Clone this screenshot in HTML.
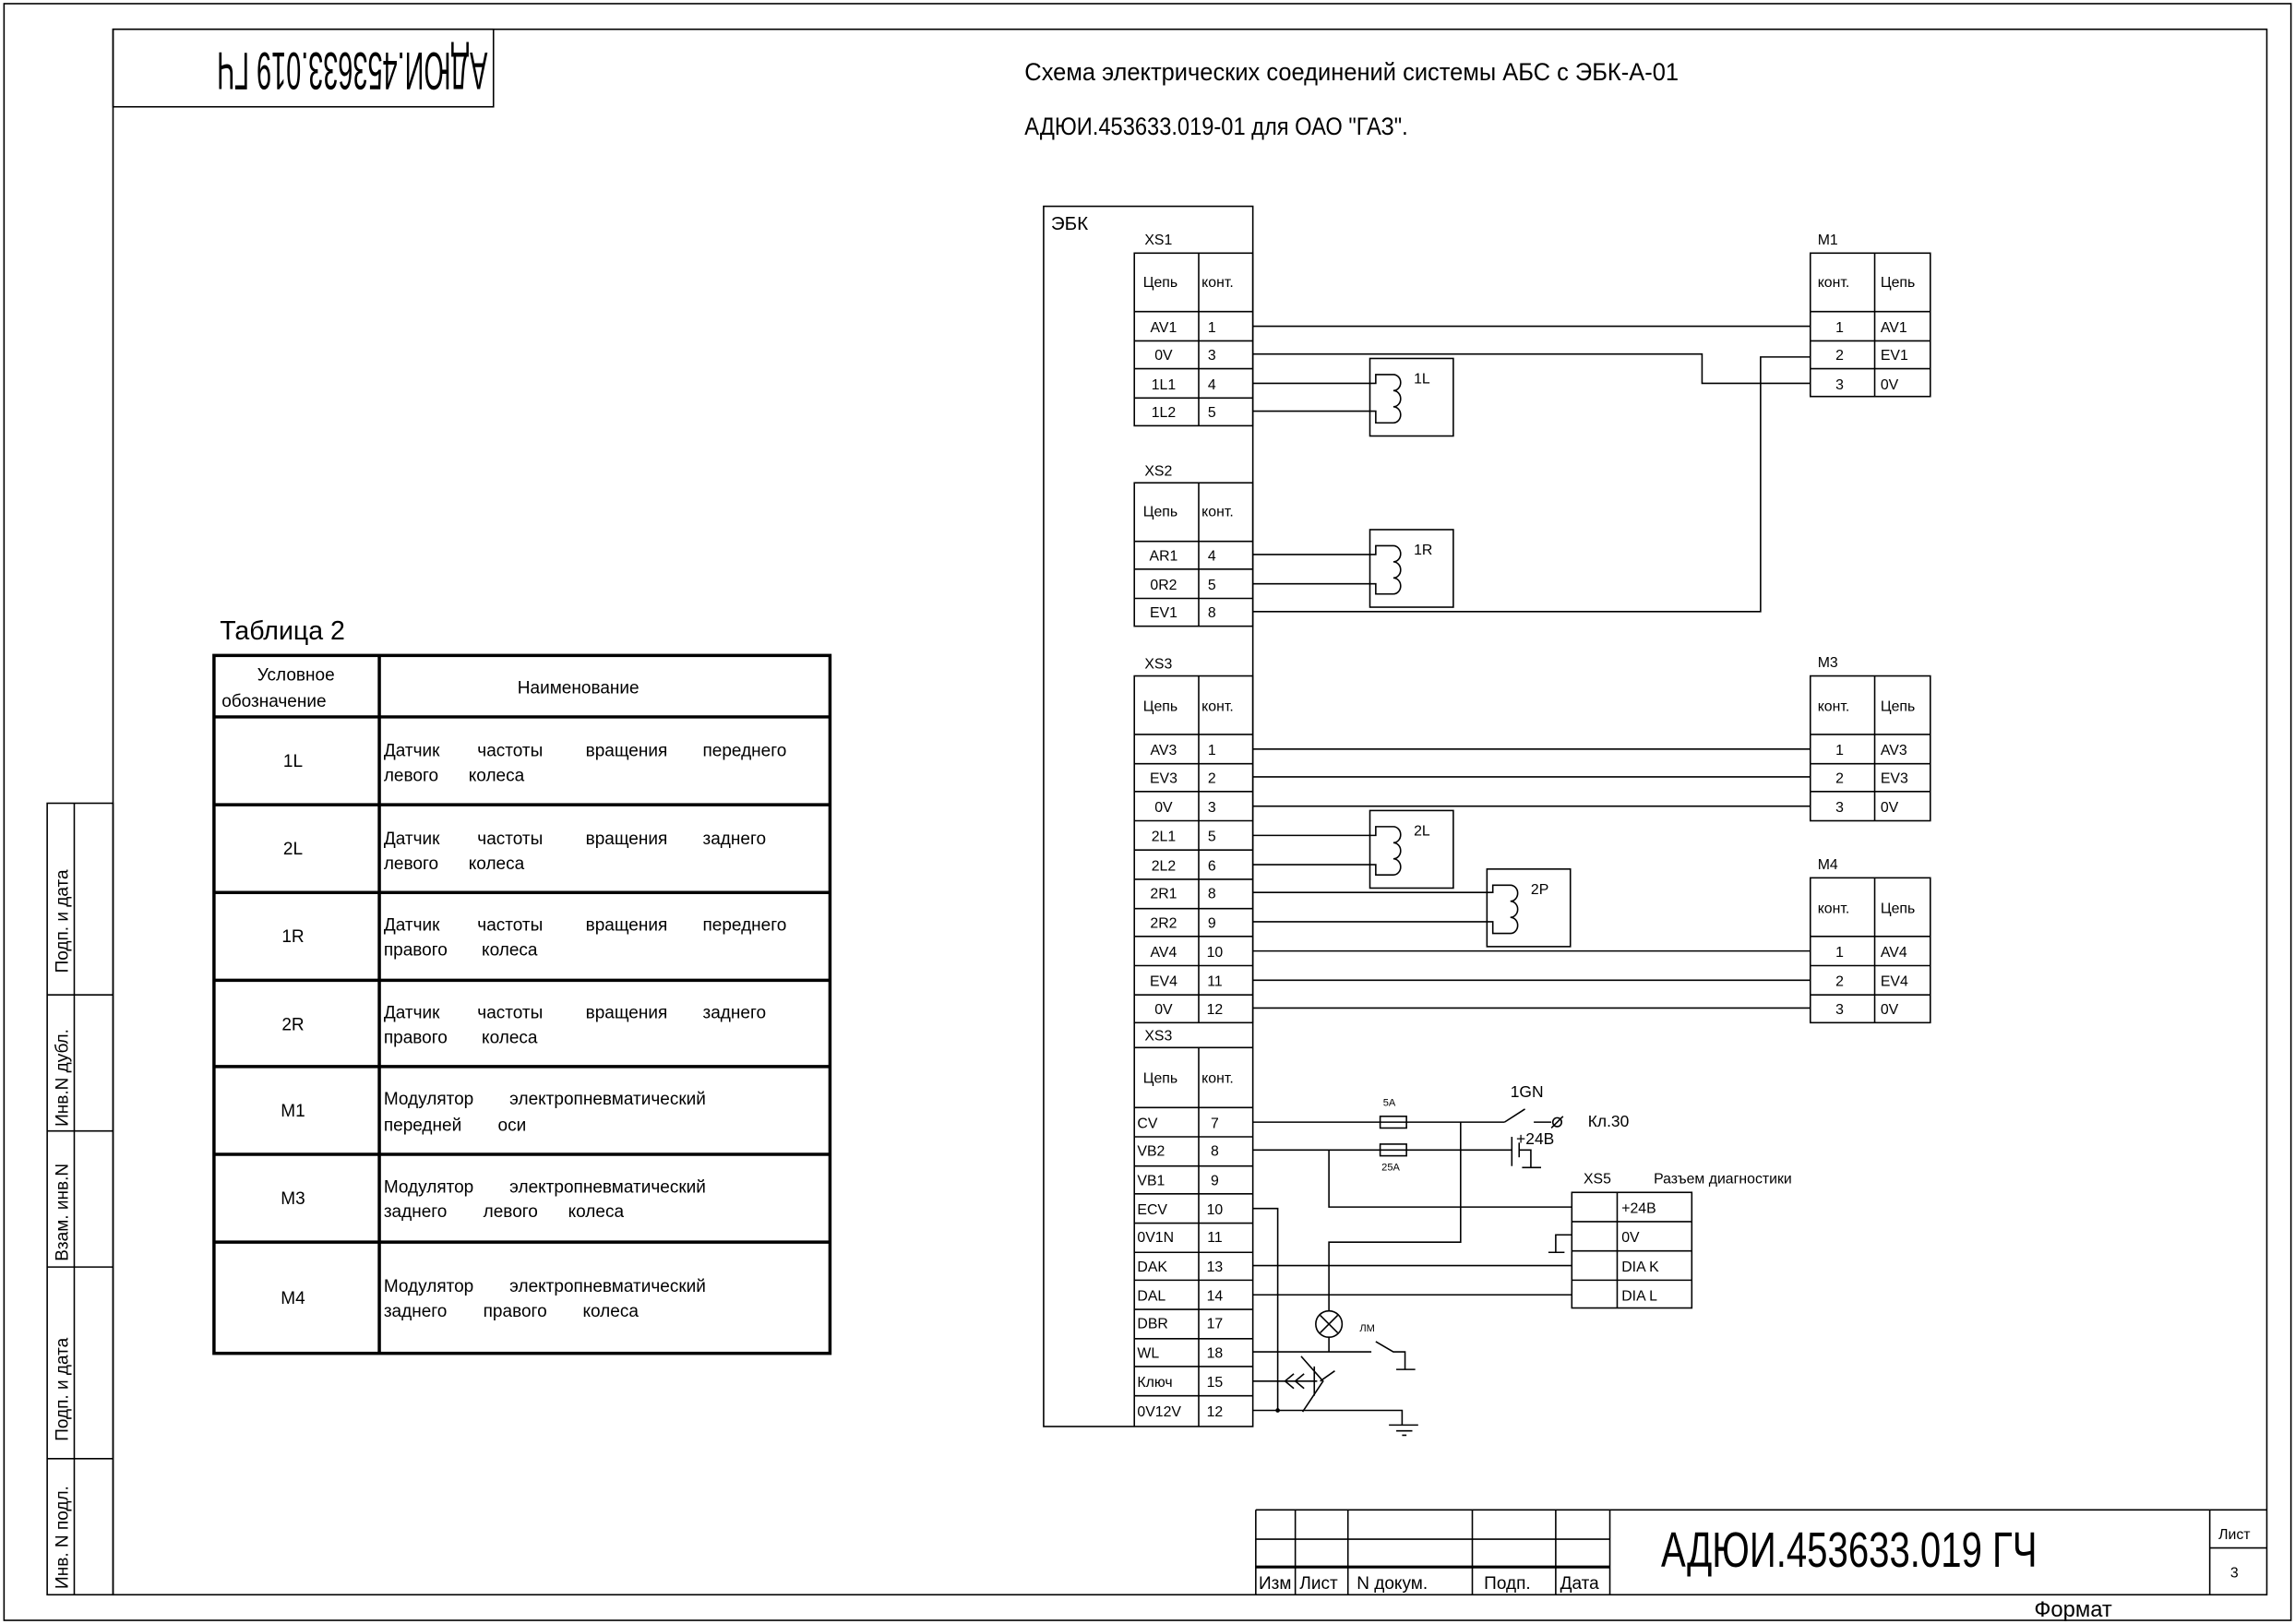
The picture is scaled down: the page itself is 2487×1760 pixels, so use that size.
<!DOCTYPE html>
<html><head><meta charset="utf-8"><style>
html,body{margin:0;padding:0;background:#fff}
svg{display:block}
text{font-family:"Liberation Sans Narrow","Liberation Sans","Noto Sans CJK SC",sans-serif;fill:#000}
.s{font-size:10px}
.m{font-size:12px}
</style></head><body>
<svg width="2487" height="1760" viewBox="0 0 1568 1110" xmlns="http://www.w3.org/2000/svg">
<g fill="none" stroke="#000" stroke-width="1">
<rect x="2.5" y="2.5" width="1563" height="1105"/>
<rect x="77" y="20" width="1472" height="1070"/>
<rect x="77" y="20" width="260" height="53"/>
<rect x="32" y="549" width="45" height="541"/>
<line x1="50.5" y1="549" x2="50.5" y2="1090"/>
<line x1="32" y1="680" x2="77" y2="680"/>
<line x1="32" y1="773" x2="77" y2="773"/>
<line x1="32" y1="866" x2="77" y2="866"/>
<line x1="32" y1="997" x2="77" y2="997"/>
<line x1="858" y1="1032" x2="1549" y2="1032"/>
<line x1="858" y1="1032" x2="858" y2="1090"/>
<line x1="858" y1="1052" x2="1100" y2="1052"/>
<line x1="858" y1="1071" x2="1100" y2="1071" stroke-width="2"/>
<line x1="885" y1="1032" x2="885" y2="1090"/>
<line x1="921" y1="1032" x2="921" y2="1090"/>
<line x1="1006" y1="1032" x2="1006" y2="1090"/>
<line x1="1063" y1="1032" x2="1063" y2="1090"/>
<line x1="1100" y1="1032" x2="1100" y2="1090"/>
<line x1="1510" y1="1032" x2="1510" y2="1090"/>
<line x1="1510" y1="1058" x2="1549" y2="1058"/>
</g>
<text x="0" y="0" font-size="36" textLength="185" lengthAdjust="spacingAndGlyphs" transform="translate(333,36) rotate(180)">АДЮИ.453633.019 ГЧ</text>
<g class="m">
<text transform="translate(46,665) rotate(-90)">Подп. и дата</text>
<text transform="translate(46,770) rotate(-90)">Инв.N дубл.</text>
<text transform="translate(46,862) rotate(-90)">Взам. инв.N</text>
<text transform="translate(46,985) rotate(-90)">Подп. и дата</text>
<text transform="translate(46,1086) rotate(-90)">Инв. N подл.</text>
</g>
<text x="860" y="1086" class="m">Изм</text>
<text x="888" y="1086" class="m">Лист</text>
<text x="927" y="1086" class="m">N докум.</text>
<text x="1014" y="1086" class="m">Подп.</text>
<text x="1066" y="1086" class="m">Дата</text>
<text x="1135" y="1071" font-size="34" textLength="257" lengthAdjust="spacingAndGlyphs">АДЮИ.453633.019 ГЧ</text>
<text x="1516" y="1052" class="s">Лист</text>
<text x="1524" y="1078" class="s">3</text>
<text x="1390" y="1105" font-size="15">Формат</text>
<text x="700" y="55" font-size="17" textLength="447" lengthAdjust="spacingAndGlyphs">Схема электрических соединений системы АБС с ЭБК-А-01</text>
<text x="700" y="92" font-size="17" textLength="262" lengthAdjust="spacingAndGlyphs">АДЮИ.453633.019-01 для ОАО "ГАЗ".</text>
<text x="150" y="437" font-size="18">Таблица 2</text>
<g fill="none" stroke="#000" stroke-width="2.2">
<rect x="146" y="448" width="421" height="477"/>
<line x1="259" y1="448" x2="259" y2="925"/>
<line x1="146" y1="490" x2="567" y2="490"/>
<line x1="146" y1="550" x2="567" y2="550"/>
<line x1="146" y1="610" x2="567" y2="610"/>
<line x1="146" y1="670" x2="567" y2="670"/>
<line x1="146" y1="729" x2="567" y2="729"/>
<line x1="146" y1="789" x2="567" y2="789"/>
<line x1="146" y1="849" x2="567" y2="849"/>
</g>
<g class="m">
<text x="202" y="465" text-anchor="middle">Условное</text>
<text x="187" y="483" text-anchor="middle">обозначение</text>
<text x="395" y="474" text-anchor="middle">Наименование</text>
<text x="200" y="524" text-anchor="middle">1L</text>
<text x="200" y="584" text-anchor="middle">2L</text>
<text x="200" y="644" text-anchor="middle">1R</text>
<text x="200" y="704" text-anchor="middle">2R</text>
<text x="200" y="763" text-anchor="middle">M1</text>
<text x="200" y="823" text-anchor="middle">M3</text>
<text x="200" y="891" text-anchor="middle">M4</text>
<text x="262" y="517">Датчик</text><text x="326" y="517">частоты</text><text x="400" y="517">вращения</text><text x="480" y="517">переднего</text>
<text x="262" y="534">левого</text><text x="320" y="534">колеса</text>
<text x="262" y="577">Датчик</text><text x="326" y="577">частоты</text><text x="400" y="577">вращения</text><text x="480" y="577">заднего</text>
<text x="262" y="594">левого</text><text x="320" y="594">колеса</text>
<text x="262" y="636">Датчик</text><text x="326" y="636">частоты</text><text x="400" y="636">вращения</text><text x="480" y="636">переднего</text>
<text x="262" y="653">правого</text><text x="329" y="653">колеса</text>
<text x="262" y="696">Датчик</text><text x="326" y="696">частоты</text><text x="400" y="696">вращения</text><text x="480" y="696">заднего</text>
<text x="262" y="713">правого</text><text x="329" y="713">колеса</text>
<text x="262" y="755">Модулятор</text><text x="348" y="755">электропневматический</text>
<text x="262" y="773">передней</text><text x="340" y="773">оси</text>
<text x="262" y="815">Модулятор</text><text x="348" y="815">электропневматический</text>
<text x="262" y="832">заднего</text><text x="330" y="832">левого</text><text x="388" y="832">колеса</text>
<text x="262" y="883">Модулятор</text><text x="348" y="883">электропневматический</text>
<text x="262" y="900">заднего</text><text x="330" y="900">правого</text><text x="398" y="900">колеса</text>
</g>
<g fill="none" stroke="#000" stroke-width="1">
<rect x="713" y="141" width="143" height="834"/>
<rect x="775" y="173" width="81" height="118"/>
<line x1="819" y1="173" x2="819" y2="291"/>
<line x1="775" y1="213" x2="856" y2="213"/><line x1="775" y1="233" x2="856" y2="233"/><line x1="775" y1="252" x2="856" y2="252"/><line x1="775" y1="272" x2="856" y2="272"/>
<rect x="775" y="330" width="81" height="98"/>
<line x1="819" y1="330" x2="819" y2="428"/>
<line x1="775" y1="370" x2="856" y2="370"/><line x1="775" y1="389" x2="856" y2="389"/><line x1="775" y1="409" x2="856" y2="409"/>
<rect x="775" y="462" width="81" height="237"/>
<line x1="819" y1="462" x2="819" y2="699"/>
<line x1="775" y1="502" x2="856" y2="502"/><line x1="775" y1="522" x2="856" y2="522"/><line x1="775" y1="541" x2="856" y2="541"/><line x1="775" y1="561" x2="856" y2="561"/><line x1="775" y1="581" x2="856" y2="581"/><line x1="775" y1="601" x2="856" y2="601"/><line x1="775" y1="621" x2="856" y2="621"/><line x1="775" y1="640" x2="856" y2="640"/><line x1="775" y1="660" x2="856" y2="660"/><line x1="775" y1="680" x2="856" y2="680"/>
<line x1="775" y1="699" x2="775" y2="975"/>
<line x1="775" y1="716" x2="856" y2="716"/>
<line x1="819" y1="716" x2="819" y2="975"/>
<line x1="775" y1="757" x2="856" y2="757"/><line x1="775" y1="777" x2="856" y2="777"/><line x1="775" y1="797" x2="856" y2="797"/><line x1="775" y1="816" x2="856" y2="816"/><line x1="775" y1="836" x2="856" y2="836"/><line x1="775" y1="856" x2="856" y2="856"/><line x1="775" y1="875" x2="856" y2="875"/><line x1="775" y1="895" x2="856" y2="895"/><line x1="775" y1="915" x2="856" y2="915"/><line x1="775" y1="934" x2="856" y2="934"/><line x1="775" y1="954" x2="856" y2="954"/>
<rect x="1237" y="173" width="82" height="98"/>
<line x1="1281" y1="173" x2="1281" y2="271"/>
<line x1="1237" y1="213" x2="1319" y2="213"/><line x1="1237" y1="233" x2="1319" y2="233"/><line x1="1237" y1="252" x2="1319" y2="252"/>
<rect x="1237" y="462" width="82" height="99"/>
<line x1="1281" y1="462" x2="1281" y2="561"/>
<line x1="1237" y1="502" x2="1319" y2="502"/><line x1="1237" y1="522" x2="1319" y2="522"/><line x1="1237" y1="541" x2="1319" y2="541"/>
<rect x="1237" y="600" width="82" height="99"/>
<line x1="1281" y1="600" x2="1281" y2="699"/>
<line x1="1237" y1="640" x2="1319" y2="640"/><line x1="1237" y1="660" x2="1319" y2="660"/><line x1="1237" y1="680" x2="1319" y2="680"/>
<rect x="936" y="245" width="57" height="53"/>
<rect x="936" y="362" width="57" height="53"/>
<rect x="936" y="554" width="57" height="53"/>
<rect x="1016" y="594" width="57" height="53"/>
<path d="M856 262H940V256H952a5 5.5 0 0 1 0 11a5 5.5 0 0 1 0 11a5 5.5 0 0 1 0 11H940V281H856"/>
<path d="M856 379H940V373H952a5 5.5 0 0 1 0 11a5 5.5 0 0 1 0 11a5 5.5 0 0 1 0 11H940V399H856"/>
<path d="M856 571H940V565H952a5 5.5 0 0 1 0 11a5 5.5 0 0 1 0 11a5 5.5 0 0 1 0 11H940V591H856"/>
<path d="M856 610H1020V605H1032a5 5.5 0 0 1 0 11a5 5.5 0 0 1 0 11a5 5.5 0 0 1 0 11H1020V630H856"/>
<line x1="856" y1="223" x2="1237" y2="223"/>
<path d="M856 242H1163V262H1237"/>
<path d="M856 418H1203V244H1237"/>
<line x1="856" y1="512" x2="1237" y2="512"/>
<line x1="856" y1="531" x2="1237" y2="531"/>
<line x1="856" y1="551" x2="1237" y2="551"/>
<line x1="856" y1="650" x2="1237" y2="650"/>
<line x1="856" y1="670" x2="1237" y2="670"/>
<line x1="856" y1="689" x2="1237" y2="689"/>
<line x1="856" y1="767" x2="1028" y2="767"/>
<rect x="943" y="763" width="18" height="8"/>
<line x1="1028" y1="767" x2="1042" y2="758"/>
<line x1="1048" y1="767" x2="1060" y2="767"/>
<circle cx="1064" cy="767" r="3"/>
<line x1="1060" y1="771" x2="1068" y2="763"/>
<line x1="856" y1="786" x2="1033" y2="786"/>
<rect x="943" y="782" width="18" height="8"/>
<line x1="1033" y1="777" x2="1033" y2="797"/>
<line x1="1038" y1="781" x2="1038" y2="791"/>
<path d="M1038 786H1046V798M1040 798H1053"/>
<path d="M908 786V825H1074"/>
<path d="M998 767V849H908V896"/>
<circle cx="908" cy="905" r="9"/>
<path d="M902 899L914 911M914 899L902 911"/>
<line x1="908" y1="914" x2="908" y2="924"/>
<line x1="856" y1="865" x2="1074" y2="865"/>
<line x1="856" y1="885" x2="1074" y2="885"/>
<path d="M1074 844H1063V856M1058 856H1069"/>
<rect x="1074" y="815" width="82" height="79"/>
<line x1="1105" y1="815" x2="1105" y2="894"/>
<line x1="1074" y1="835" x2="1156" y2="835"/><line x1="1074" y1="855" x2="1156" y2="855"/><line x1="1074" y1="875" x2="1156" y2="875"/>
<path d="M856 826H873V964"/>
<path d="M856 924H937"/>
<path d="M940 917L952 924H960V936M954 936H967"/>
<line x1="856" y1="944" x2="900" y2="944"/>
<path d="M884 939L878 944L884 949M891 939L885 944L891 949"/>
<path d="M889 927L904 944L890 965M898 934V954M902 944L912 937"/>
<path d="M856 964H958V974M949 974H969M954 978H965M958 981H961"/>
</g>
<circle cx="873" cy="964" r="1.5"/>
<g class="s">
<text x="718" y="157" font-size="13">ЭБК</text>
<text x="782" y="167">XS1</text>
<text x="782" y="325">XS2</text>
<text x="782" y="457">XS3</text>
<text x="782" y="711">XS3</text>
<text x="1242" y="167">M1</text>
<text x="1242" y="456">M3</text>
<text x="1242" y="594">M4</text>
<text x="966" y="262">1L</text>
<text x="966" y="379">1R</text>
<text x="966" y="571">2L</text>
<text x="1046" y="611">2P</text>
<text x="781" y="196">Цепь</text><text x="821" y="196">конт.</text>
<text x="781" y="353">Цепь</text><text x="821" y="353">конт.</text>
<text x="781" y="486">Цепь</text><text x="821" y="486">конт.</text>
<text x="781" y="740">Цепь</text><text x="821" y="740">конт.</text>
<text x="1242" y="196">конт.</text><text x="1285" y="196">Цепь</text>
<text x="1242" y="486">конт.</text><text x="1285" y="486">Цепь</text>
<text x="1242" y="624">конт.</text><text x="1285" y="624">Цепь</text>
<g text-anchor="middle">
<text x="795" y="227">AV1</text><text x="795" y="246">0V</text><text x="795" y="266">1L1</text><text x="795" y="285">1L2</text>
<text x="795" y="383">AR1</text><text x="795" y="403">0R2</text><text x="795" y="422">EV1</text>
<text x="795" y="516">AV3</text><text x="795" y="535">EV3</text><text x="795" y="555">0V</text><text x="795" y="575">2L1</text><text x="795" y="595">2L2</text><text x="795" y="614">2R1</text><text x="795" y="634">2R2</text><text x="795" y="654">AV4</text><text x="795" y="674">EV4</text><text x="795" y="693">0V</text>
<text x="828" y="227">1</text><text x="828" y="246">3</text><text x="828" y="266">4</text><text x="828" y="285">5</text>
<text x="828" y="383">4</text><text x="828" y="403">5</text><text x="828" y="422">8</text>
<text x="828" y="516">1</text><text x="828" y="535">2</text><text x="828" y="555">3</text><text x="828" y="575">5</text><text x="828" y="595">6</text><text x="828" y="614">8</text><text x="828" y="634">9</text><text x="830" y="654">10</text><text x="830" y="674">11</text><text x="830" y="693">12</text>
<text x="830" y="771">7</text><text x="830" y="790">8</text><text x="830" y="810">9</text><text x="830" y="830">10</text><text x="830" y="849">11</text><text x="830" y="869">13</text><text x="830" y="889">14</text><text x="830" y="908">17</text><text x="830" y="928">18</text><text x="830" y="948">15</text><text x="830" y="968">12</text>
<text x="1257" y="227">1</text><text x="1257" y="246">2</text><text x="1257" y="266">3</text>
<text x="1257" y="516">1</text><text x="1257" y="535">2</text><text x="1257" y="555">3</text>
<text x="1257" y="654">1</text><text x="1257" y="674">2</text><text x="1257" y="693">3</text>
</g>
<text x="1285" y="227">AV1</text><text x="1285" y="246">EV1</text><text x="1285" y="266">0V</text>
<text x="1285" y="516">AV3</text><text x="1285" y="535">EV3</text><text x="1285" y="555">0V</text>
<text x="1285" y="654">AV4</text><text x="1285" y="674">EV4</text><text x="1285" y="693">0V</text>
<text x="777" y="771">CV</text><text x="777" y="790">VB2</text><text x="777" y="810">VB1</text><text x="777" y="830">ECV</text><text x="777" y="849">0V1N</text><text x="777" y="869">DAK</text><text x="777" y="889">DAL</text><text x="777" y="908">DBR</text><text x="777" y="928">WL</text><text x="777" y="948">Ключ</text><text x="777" y="968">0V12V</text>
<text x="1108" y="829">+24B</text><text x="1108" y="849">0V</text><text x="1108" y="869">DIA K</text><text x="1108" y="889">DIA L</text>
<text x="1082" y="809">XS5</text><text x="1130" y="809">Разъем диагностики</text>
<text x="1032" y="750" font-size="11">1GN</text>
<text x="1085" y="770" font-size="11">Кл.30</text>
<text x="1036" y="782" font-size="11">+24B</text>
<text x="945" y="756" font-size="7">5А</text>
<text x="944" y="800" font-size="7">25А</text>
<text x="929" y="910" font-size="7">ЛМ</text>
</g>
</svg>
</body></html>
